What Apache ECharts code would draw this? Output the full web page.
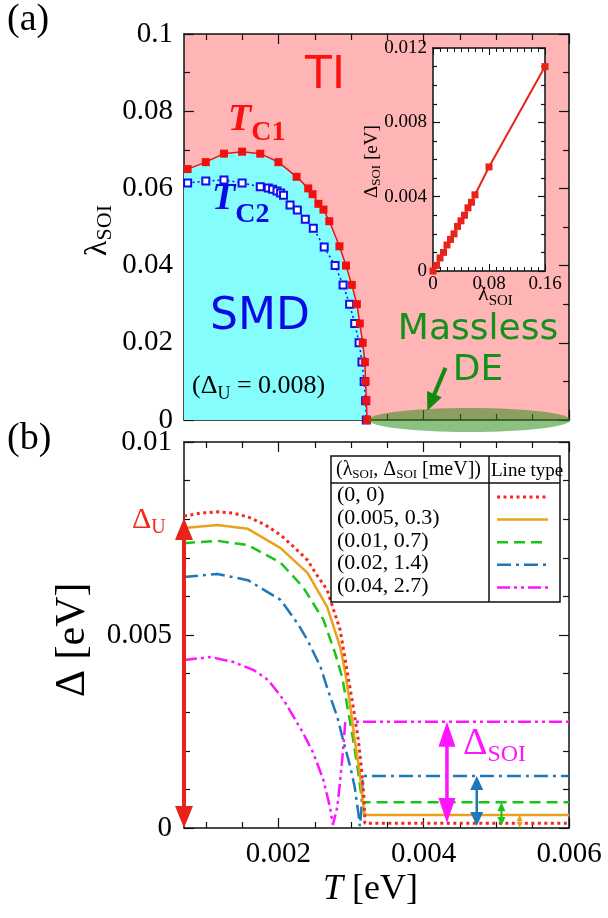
<!DOCTYPE html>
<html>
<head>
<meta charset="utf-8">
<title>Phase diagram and gap</title>
<script src="https://cdn.jsdelivr.net/npm/echarts@6/dist/echarts.min.js"></script>
<style>
html, body { margin: 0; padding: 0; background: #fff; }
#main { width: 608px; height: 918px; }
</style>
</head>
<body>
<div id="main"></div>
<script>
var SERIF = 'Liberation Serif';
var SANS = 'DejaVu Sans';

// temperature axis shared by (a) and (b), eV
var T_MIN = 0.0007, T_MAX = 0.006;
var tMajor = [0.002, 0.004, 0.006];
var tMinor = [0.001, 0.0015, 0.0025, 0.003, 0.0035, 0.0045, 0.005, 0.0055];

// (a) transition lines
var tc1T = [0.00075, 0.00100, 0.00125, 0.00150, 0.00175, 0.00200, 0.00225, 0.00241, 0.00247, 0.00255, 0.00262, 0.00270, 0.00284, 0.00293, 0.00301, 0.00308, 0.00312, 0.00316, 0.00319, 0.00320, 0.00321, 0.00322];
var tc1Lam = [0.0650, 0.0668, 0.0690, 0.0695, 0.0690, 0.0668, 0.0630, 0.0600, 0.0585, 0.0560, 0.0545, 0.0515, 0.0450, 0.0400, 0.0350, 0.0300, 0.0250, 0.0200, 0.0150, 0.0100, 0.0050, 0];
var tc2T = [0.00075, 0.00100, 0.00125, 0.00150, 0.00175, 0.00186, 0.00192, 0.00198, 0.00203, 0.00207, 0.00216, 0.00226, 0.00237, 0.00248, 0.00263, 0.00278, 0.00289, 0.00298, 0.00305, 0.00311, 0.00315, 0.00318, 0.00320, 0.00321];
var tc2Lam = [0.0614, 0.0619, 0.0622, 0.0614, 0.0604, 0.0601, 0.0598, 0.0593, 0.0588, 0.0582, 0.0557, 0.0544, 0.0520, 0.0497, 0.0448, 0.0400, 0.0350, 0.0300, 0.0250, 0.0200, 0.0150, 0.0100, 0.0050, 0];

// (a) inset: Delta_SOI vs lambda_SOI
var insetLam = [0, 0.005, 0.01, 0.015, 0.02, 0.025, 0.03, 0.035, 0.04, 0.045, 0.05, 0.055, 0.06, 0.08, 0.16];
var insetGap = [0, 0.0003, 0.0007, 0.0010, 0.0014, 0.0017, 0.0020, 0.0024, 0.0027, 0.0030, 0.0034, 0.0037, 0.0041, 0.0056, 0.0110];

// (b) gap vs temperature
var legendLabels = ['(0, 0)', '(0.005, 0.3)', '(0.01, 0.7)', '(0.02, 1.4)', '(0.04, 2.7)'];
var gap0T = [0.00070, 0.00093, 0.00116, 0.00137, 0.00158, 0.00182, 0.00203, 0.00223, 0.00240, 0.00253, 0.00267, 0.00285, 0.00295, 0.00303, 0.00310, 0.00315, 0.00318, 0.00319, 0.00600];
var gap0 = [0.00808, 0.00816, 0.00819, 0.00816, 0.00806, 0.00785, 0.00759, 0.00725, 0.00694, 0.00655, 0.00617, 0.00513, 0.00402, 0.00313, 0.00228, 0.00142, 0.00073, 0.00012, 0.00012];
var gap1T = [0.00070, 0.00116, 0.00158, 0.00203, 0.00240, 0.00267, 0.00285, 0.00292, 0.00299, 0.00305, 0.00312, 0.00316, 0.00318, 0.00321, 0.00600];
var gap1 = [0.00777, 0.00785, 0.00775, 0.00725, 0.00661, 0.00573, 0.00469, 0.00402, 0.00313, 0.00228, 0.00142, 0.00073, 0.00039, 0.00034, 0.00034];
var gap2T = [0.00070, 0.00116, 0.00158, 0.00203, 0.00234, 0.00262, 0.00278, 0.00288, 0.00295, 0.00303, 0.00310, 0.00315, 0.00316, 0.00600];
var gap2 = [0.00738, 0.00744, 0.00733, 0.00687, 0.00624, 0.00539, 0.00453, 0.00389, 0.00313, 0.00228, 0.00142, 0.00073, 0.00067, 0.00067];
var gap3T = [0.00070, 0.00116, 0.00158, 0.00203, 0.00226, 0.00240, 0.00248, 0.00258, 0.00268, 0.00281, 0.00289, 0.00299, 0.00305, 0.00310, 0.00312, 0.00314, 0.00316, 0.00600];
var gap3 = [0.00650, 0.00658, 0.00642, 0.00591, 0.00531, 0.00487, 0.00456, 0.00417, 0.00358, 0.00288, 0.00228, 0.00158, 0.00106, 0.00039, 0.00005, 0.00040, 0.00135, 0.00135];
var gap4T = [0.00070, 0.00107, 0.00138, 0.00166, 0.00186, 0.00207, 0.00221, 0.00234, 0.00248, 0.00262, 0.00271, 0.00275, 0.00281, 0.00285, 0.00289, 0.00292, 0.00600];
var gap4 = [0.00435, 0.00443, 0.00430, 0.00409, 0.00383, 0.00332, 0.00288, 0.00246, 0.00194, 0.00124, 0.00054, 0.00008, 0.00054, 0.00124, 0.00202, 0.00275, 0.00275];

// annotation anchors (data units of panel b)
var deltaU = 0.00803;
var arrowT = [0.00532, 0.00507, 0.00473, 0.00432];   // orange, green, blue, magenta
var arrowTop = [0.00034, 0.00067, 0.00135, 0.00275];
var arrowBottom = [0, 0.00005, 0.00005, 0.00013];

var lineColors = ['#f5281c', '#eaa21a', '#18c418', '#1f77b8', '#ff14ff'];
var lineDash = [[3, 3.5], 'solid', [11, 6], [14, 5, 3, 5], [13, 4, 3, 4, 3, 4]];

function zip(xs, ys) {
	var out = [];
	for (var i = 0; i < xs.length; i++) out.push([xs[i], ys[i]]);
	return out;
}
function fmt(v) { return String(+v.toFixed(4)); }

var AX = '#111';
function tAxis(grid, pos, vals, len, labels) {
	return {
		gridIndex: grid, type: 'value', min: T_MIN, max: T_MAX, position: pos,
		axisLine: { show: len > 6, onZero: false, lineStyle: { color: AX, width: 1.5 } },
		axisTick: { show: true, inside: true, length: len, customValues: vals, lineStyle: { color: AX, width: 1.2 } },
		axisLabel: labels ? { show: true, customValues: vals, formatter: fmt, fontFamily: SERIF, fontSize: 29, color: '#000', margin: 12 } : { show: false },
		splitLine: { show: false }
	};
}
function vAxis(grid, pos, min, max, step, split, len, minorLen, labelSize, margin, labels) {
	return {
		gridIndex: grid, type: 'value', min: min, max: max, interval: step, position: pos,
		axisLine: { show: true, onZero: false, lineStyle: { color: AX, width: 1.5 } },
		axisTick: { show: true, inside: true, length: len, lineStyle: { color: AX, width: 1.2 } },
		minorTick: { show: true, splitNumber: split, length: minorLen, lineStyle: { color: AX, width: 1.2 } },
		axisLabel: labels ? { show: true, formatter: fmt, fontFamily: SERIF, fontSize: labelSize, color: '#000', margin: margin, showMinLabel: true, showMaxLabel: true } : { show: false },
		splitLine: { show: false }, minorSplitLine: { show: false }
	};
}

var series = [];
// cyan region below T_C1 (the edge point only closes the fill at the frame)
series.push({
	type: 'line', xAxisIndex: 0, yAxisIndex: 0, symbol: 'none', silent: true,
	data: [[T_MIN, tc1Lam[0]]].concat(zip(tc1T, tc1Lam)),
	lineStyle: { width: 0 }, areaStyle: { color: '#86fdfd', opacity: 1 }, z: 1
});
series.push({
	type: 'line', name: 'Tc2', xAxisIndex: 0, yAxisIndex: 0, data: zip(tc2T, tc2Lam),
	symbol: 'rect', symbolSize: 7, showAllSymbol: true,
	itemStyle: { color: '#fff', borderColor: '#1010e8', borderWidth: 2 },
	lineStyle: { color: '#1010e8', width: 1.5, type: [2, 3] }, z: 3
});
series.push({
	type: 'line', name: 'Tc1', xAxisIndex: 0, yAxisIndex: 0, data: zip(tc1T, tc1Lam),
	symbol: 'rect', symbolSize: 8, showAllSymbol: true,
	itemStyle: { color: '#f01010' },
	lineStyle: { color: '#f01010', width: 1.5 }, z: 4
});
series.push({
	type: 'line', name: 'inset', xAxisIndex: 4, yAxisIndex: 2, data: zip(insetLam, insetGap),
	symbol: 'rect', symbolSize: 7, showAllSymbol: true,
	itemStyle: { color: '#e8231a' }, lineStyle: { color: '#e8231a', width: 2 }, z: 5
});
var gapSets = [[gap0T, gap0], [gap1T, gap1], [gap2T, gap2], [gap3T, gap3], [gap4T, gap4]];
for (var i = gapSets.length - 1; i >= 0; i--) {
	series.push({
		type: 'line', name: legendLabels[i], xAxisIndex: 6, yAxisIndex: 4,
		data: zip(gapSets[i][0], gapSets[i][1]), symbol: 'none',
		lineStyle: { color: lineColors[i], width: i === 0 ? 3 : 2.5, type: lineDash[i] }, z: 3
	});
}

var option = {
	animation: false,
	backgroundColor: '#fff',
	grid: [
		{ left: 184, top: 34, width: 385, height: 386, show: true, backgroundColor: '#ffb5b5', borderWidth: 0, outerBoundsMode: 'none' },
		{ left: 433, top: 48, width: 112, height: 223, show: true, backgroundColor: '#fff', borderWidth: 0, outerBoundsMode: 'none' },
		{ left: 184, top: 442, width: 385, height: 386, show: false, outerBoundsMode: 'none' }
	],
	xAxis: [
		tAxis(0, 'bottom', tMajor, 10, false),
		tAxis(0, 'bottom', tMinor, 6, false),
		tAxis(0, 'top', tMajor, 10, false),
		tAxis(0, 'top', tMinor, 6, false),
		{
			gridIndex: 1, type: 'value', min: 0, max: 0.16, interval: 0.08, position: 'bottom',
			axisLine: { onZero: false, lineStyle: { color: AX, width: 1.5 } },
			axisTick: { inside: true, length: 7, lineStyle: { color: AX } },
			minorTick: { show: true, splitNumber: 8, length: 4, lineStyle: { color: AX } },
			axisLabel: { formatter: fmt, fontFamily: SERIF, fontSize: 19, color: '#000', margin: 4, showMinLabel: true, showMaxLabel: true },
			splitLine: { show: false }
		},
		{
			gridIndex: 1, type: 'value', min: 0, max: 0.16, interval: 0.08, position: 'top',
			axisLine: { onZero: false, lineStyle: { color: AX, width: 1.5 } },
			axisTick: { inside: true, length: 7, lineStyle: { color: AX } },
			minorTick: { show: true, splitNumber: 8, length: 4, lineStyle: { color: AX } },
			axisLabel: { show: false }, splitLine: { show: false }
		},
		tAxis(2, 'bottom', tMajor, 10, true),
		tAxis(2, 'bottom', tMinor, 6, false),
		tAxis(2, 'top', tMajor, 10, false),
		tAxis(2, 'top', tMinor, 6, false)
	],
	yAxis: [
		vAxis(0, 'left', 0, 0.1, 0.02, 2, 10, 6, 29, 11, true),
		vAxis(0, 'right', 0, 0.1, 0.02, 2, 10, 6, 29, 11, false),
		vAxis(1, 'left', 0, 0.012, 0.004, 4, 7, 4, 19, 6, true),
		vAxis(1, 'right', 0, 0.012, 0.004, 4, 7, 4, 19, 6, false),
		vAxis(2, 'left', 0, 0.01, 0.005, 5, 10, 6, 29, 12, true),
		vAxis(2, 'right', 0, 0.01, 0.005, 5, 10, 6, 29, 12, false)
	],
	series: series
};

var chart = echarts.init(document.getElementById('main'));
chart.setOption(option);

// ---------- annotations ----------
var measureCtx = document.createElement('canvas').getContext('2d');
function label(x, y, pieces, opt) {
	opt = opt || {};
	var fam = opt.family || SERIF, color = opt.color || '#000';
	var cx = 0, kids = [];
	pieces.forEach(function (p) {
		var f = p.f || fam;
		var st = p.it ? 'italic' : 'normal', wt = p.b ? 'bold' : 'normal';
		kids.push({
			type: 'text', z: 40, x: cx, y: (p.dy || 0) - 0.34 * p.s,
			style: { text: p.t, fontSize: p.s, fontFamily: f, fontStyle: st, fontWeight: wt, fill: p.c || color, align: 'left', verticalAlign: 'middle' }
		});
		measureCtx.font = st + ' ' + wt + ' ' + p.s + 'px "' + f + '"';
		cx += measureCtx.measureText(p.t).width;
	});
	if (opt.center) kids.forEach(function (k) { k.x -= cx / 2; });
	return { type: 'group', x: x, y: y, rotation: opt.rot || 0, z: 40, children: kids };
}
function arrowHead(tip, dir, w, l, color) {
	// dir: unit vector pointing toward the tip
	var bx = tip[0] - dir[0] * l, by = tip[1] - dir[1] * l;
	var nx = -dir[1] * w / 2, ny = dir[0] * w / 2;
	return { type: 'polygon', z: 25, shape: { points: [tip, [bx + nx, by + ny], [bx - nx, by - ny]] }, style: { fill: color } };
}
function dblArrow(pTop, pBot, color, lw, hw, hl) {
	var x = pTop[0];
	return [
		{ type: 'line', z: 24, shape: { x1: x, y1: pTop[1] + hl - 1, x2: x, y2: pBot[1] - hl + 1 }, style: { stroke: color, lineWidth: lw } },
		arrowHead(pTop, [0, -1], hw, hl, color),
		arrowHead(pBot, [0, 1], hw, hl, color)
	];
}
function px(seriesIndex, p) { return chart.convertToPixel({ seriesIndex: seriesIndex }, p); }

var g = [];
var RED = '#ff1010', BLUE = '#0a0ae6', GREEN = '#15901a';

// panel letters
g.push(label(7, 33, [{ t: '(a)', s: 38 }]));
g.push(label(7, 452, [{ t: '(b)', s: 38 }]));

// (a) region labels
g.push(label(305, 92, [{ t: 'TI', s: 44 }], { family: SANS, color: RED }));
g.push(label(228, 133, [{ t: 'T', s: 38, it: true, b: true }, { t: 'C1', s: 28, b: true, dy: 9 }], { color: RED }));
g.push(label(212, 212, [{ t: 'T', s: 38, it: true, b: true }, { t: 'C2', s: 28, b: true, dy: 12 }], { color: BLUE }));
g.push(label(210, 333, [{ t: 'SMD', s: 44 }], { family: SANS, color: BLUE }));
g.push(label(192, 395, [{ t: '(\u0394', s: 26 }, { t: 'U', s: 18, dy: 5 }, { t: ' = 0.008)', s: 26 }]));
g.push(label(478, 342, [{ t: 'Massless', s: 36 }], { family: SANS, color: GREEN, center: true }));
g.push(label(478, 383, [{ t: 'DE', s: 36 }], { family: SANS, color: GREEN, center: true }));

// massless Dirac electron region at lambda = 0
var ec = px(2, [0.00463, 0]);
g.push({ type: 'ellipse', z: 6, shape: { cx: ec[0], cy: ec[1], rx: 101, ry: 12 }, style: { fill: 'rgba(45,140,25,0.55)' } });
var aTail = px(2, [0.0043, 0.0135]), aTip = px(2, [0.00405, 0.0024]);
var dx = aTip[0] - aTail[0], dy = aTip[1] - aTail[1], dl = Math.sqrt(dx * dx + dy * dy);
var ud = [dx / dl, dy / dl];
g.push({ type: 'line', z: 25, shape: { x1: aTail[0], y1: aTail[1], x2: aTip[0] - ud[0] * 14, y2: aTip[1] - ud[1] * 14 }, style: { stroke: '#128a12', lineWidth: 4 } });
g.push(arrowHead(aTip, ud, 16, 18, '#128a12'));

// axis names
g.push(label(108, 256, [{ t: '\u03bb', s: 32 }, { t: 'SOI', s: 22, dy: 5 }], { rot: Math.PI / 2 }));
g.push(label(378, 198, [{ t: '\u0394', s: 19 }, { t: 'SOI', s: 13, dy: 3 }, { t: ' [eV]', s: 19 }], { rot: Math.PI / 2 }));
g.push(label(478, 302, [{ t: '\u03bb', s: 22 }, { t: 'SOI', s: 15, dy: 4 }]));
g.push(label(87, 697, [{ t: '\u0394 [eV]', s: 42 }], { rot: Math.PI / 2 }));
g.push(label(323, 902, [{ t: 'T', s: 36, it: true }, { t: ' [eV]', s: 36 }]));

// (b) arrows
var bIdx = 4; // first series of panel (b)
dblArrow(px(bIdx, [T_MIN, deltaU]), px(bIdx, [T_MIN, 0]), '#e8231a', 4, 18, 22).forEach(function (e) { g.push(e); });
var arrowColors = [lineColors[1], lineColors[2], lineColors[3], lineColors[4]];
var arrowDims = [[2, 6, 6], [2, 8, 9], [2.5, 13, 14], [3.5, 17, 25]];
for (var k = 0; k < arrowT.length; k++) {
	dblArrow(px(bIdx, [arrowT[k], arrowTop[k]]), px(bIdx, [arrowT[k], arrowBottom[k]]), arrowColors[k], arrowDims[k][0], arrowDims[k][1], arrowDims[k][2]).forEach(function (e) { g.push(e); });
}
g.push(label(132, 530, [{ t: '\u0394', s: 30 }, { t: 'U', s: 20, dy: 5 }], { color: '#f0281c' }));
g.push(label(463, 757, [{ t: '\u0394', s: 38 }, { t: 'SOI', s: 24, dy: 6 }], { color: '#ff14ff' }));

// (b) line-type table
var tb = { x0: 331, x1: 560, y0: 456, y1: 602, head: 483, col: 489 };
g.push({ type: 'rect', z: 20, shape: { x: tb.x0, y: tb.y0, width: tb.x1 - tb.x0, height: tb.y1 - tb.y0 }, style: { fill: '#fff', stroke: '#111', lineWidth: 1.5 } });
g.push({ type: 'line', z: 21, shape: { x1: tb.x0, y1: tb.head, x2: tb.x1, y2: tb.head }, style: { stroke: '#111', lineWidth: 1.5 } });
g.push({ type: 'line', z: 21, shape: { x1: tb.col, y1: tb.y0, x2: tb.col, y2: tb.y1 }, style: { stroke: '#111', lineWidth: 1.5 } });
g.push(label(336, 477, [{ t: '(\u03bb', s: 20 }, { t: 'SOI', s: 13, dy: 2 }, { t: ', \u0394', s: 20 }, { t: 'SOI', s: 13, dy: 2 }, { t: ' [meV])', s: 20 }]));
g.push(label(491, 477, [{ t: 'Line type', s: 19 }]));
for (var r = 0; r < legendLabels.length; r++) {
	var yc = 497 + r * 22.6;
	g.push(label(337, yc + 6, [{ t: legendLabels[r], s: 22 }]));
	g.push({ type: 'line', z: 22, shape: { x1: 497, y1: yc, x2: 548, y2: yc }, style: { stroke: lineColors[r], lineWidth: r === 0 ? 3 : 2.5, lineDash: lineDash[r] === 'solid' ? null : lineDash[r] } });
}

chart.setOption({ graphic: { elements: g } });
</script>
</body>
</html>
